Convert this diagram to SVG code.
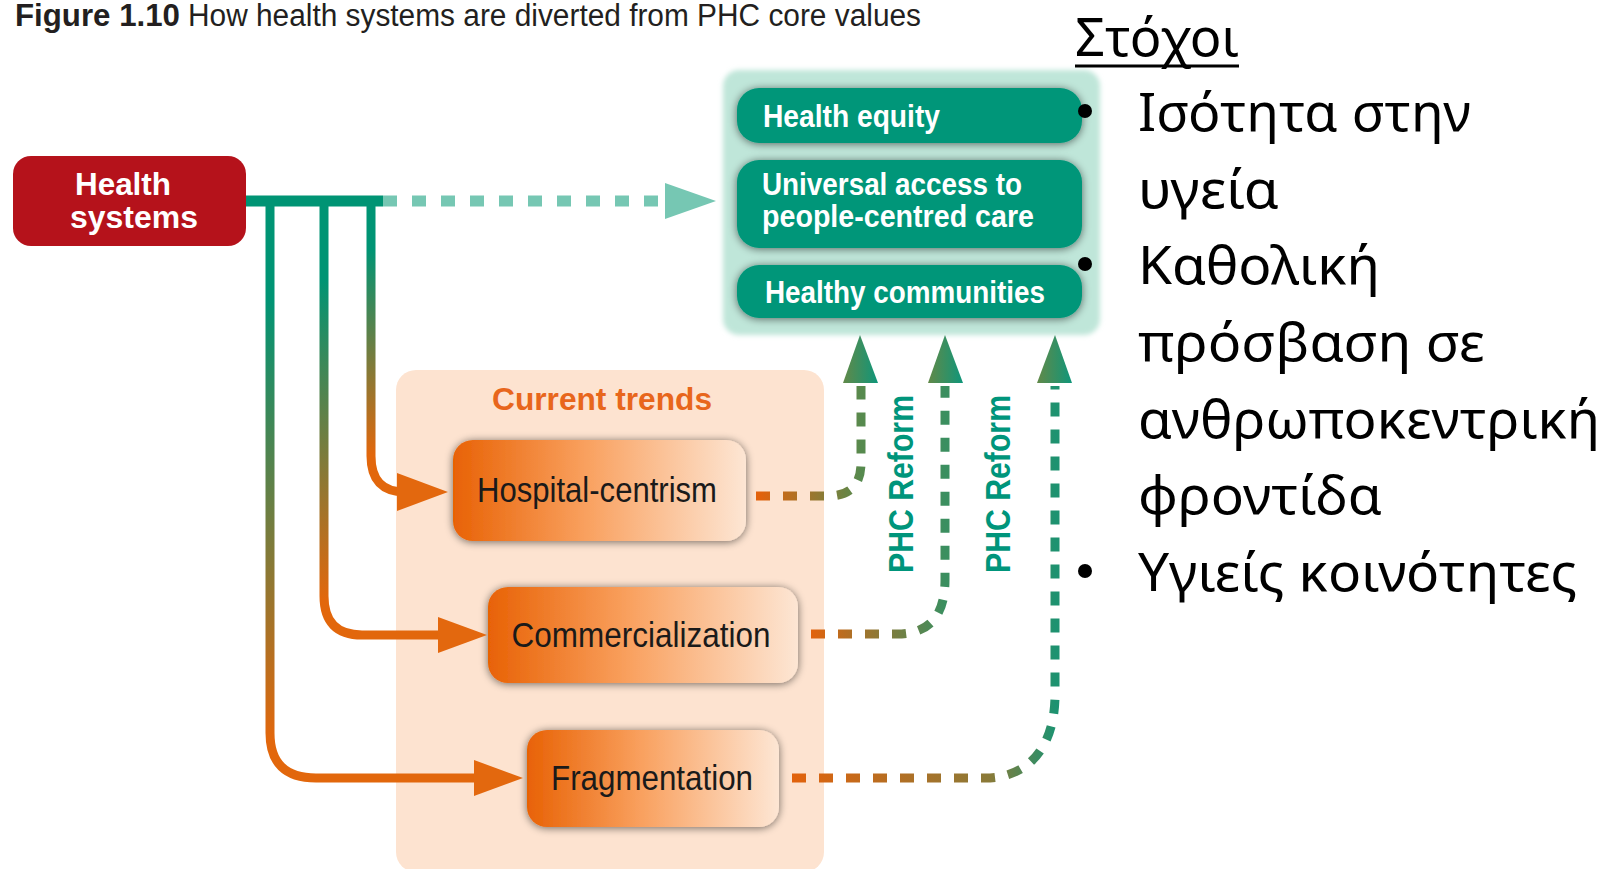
<svg xmlns="http://www.w3.org/2000/svg" width="1610" height="869" viewBox="0 0 1610 869">
<style>
.cond{font-family:"Liberation Sans Narrow","Liberation Sans",Arial,sans-serif}
.title{font-size:31px;fill:#231f20}
.wb{font-size:31px;font-weight:bold;fill:#ffffff}
.ot{font-size:35px;fill:#1a1a1a}
.phc{font-size:35px;font-weight:bold;fill:#00957b}
.gr{font-family:"Noto Sans","Open Sans","DejaVu Sans",sans-serif;font-size:52px;fill:#000000}
.sol{fill:none;stroke-width:9}
.dsh{fill:none;stroke-width:9;stroke-dasharray:14 13}
</style>
<defs>
<filter id="sh" x="-15%" y="-30%" width="130%" height="160%">
<feGaussianBlur in="SourceAlpha" stdDeviation="4" result="b"/>
<feOffset in="b" dx="0" dy="1" result="o"/>
<feComponentTransfer in="o" result="s"><feFuncA type="linear" slope="0.55"/></feComponentTransfer>
<feMerge><feMergeNode in="s"/><feMergeNode in="SourceGraphic"/></feMerge>
</filter>
<filter id="soft" x="-5%" y="-5%" width="110%" height="110%"><feGaussianBlur stdDeviation="2.5"/></filter>
<linearGradient id="og" x1="0" y1="0" x2="1" y2="0">
<stop offset="0" stop-color="#e86205"/><stop offset="0.45" stop-color="#f9a05e"/><stop offset="1" stop-color="#fde6d4"/>
</linearGradient>
<linearGradient id="gL1" gradientUnits="userSpaceOnUse" x1="0" y1="250" x2="0" y2="455"><stop offset="0" stop-color="#009474"/><stop offset="1" stop-color="#e2670c"/></linearGradient>
<linearGradient id="gL2" gradientUnits="userSpaceOnUse" x1="0" y1="280" x2="0" y2="600"><stop offset="0" stop-color="#009474"/><stop offset="1" stop-color="#e2670c"/></linearGradient>
<linearGradient id="gL3" gradientUnits="userSpaceOnUse" x1="0" y1="300" x2="0" y2="740"><stop offset="0" stop-color="#009474"/><stop offset="1" stop-color="#e2670c"/></linearGradient>
<linearGradient id="gD1" gradientUnits="userSpaceOnUse" x1="760" y1="0" x2="861" y2="0"><stop offset="0" stop-color="#e2620c"/><stop offset="1" stop-color="#568a4e"/></linearGradient>
<linearGradient id="gD2" gradientUnits="userSpaceOnUse" x1="811" y1="0" x2="945" y2="0"><stop offset="0" stop-color="#e2620c"/><stop offset="1" stop-color="#3a8f60"/></linearGradient>
<linearGradient id="gD3" gradientUnits="userSpaceOnUse" x1="792" y1="0" x2="1055" y2="0"><stop offset="0" stop-color="#e2620c"/><stop offset="0.75" stop-color="#8a7a38"/><stop offset="1" stop-color="#1d9270"/></linearGradient>
<linearGradient id="ga" x1="0" y1="0" x2="1" y2="0"><stop offset="0" stop-color="#628948"/><stop offset="1" stop-color="#0f967a"/></linearGradient>
</defs>
<rect width="1610" height="869" fill="#ffffff"/>

<g id="title">
<text class="cond title" x="15" y="26" font-weight="bold" textLength="165" lengthAdjust="spacingAndGlyphs">Figure 1.10</text>
<text class="cond title" x="188" y="26" textLength="733" lengthAdjust="spacingAndGlyphs">How health systems are diverted from PHC core values</text>
</g>

<g id="goals-panel">
<rect x="723" y="70" width="377" height="265" rx="16" fill="#bfe6d9" filter="url(#soft)"/>
</g>
<g id="health-equity">
<rect x="737" y="88" width="345" height="55" rx="22" fill="#009679" filter="url(#sh)"/>
<text class="cond wb" x="763" y="127" textLength="177" lengthAdjust="spacingAndGlyphs">Health equity</text>
</g>
<g id="universal-access">
<rect x="737" y="160" width="345" height="88" rx="22" fill="#009679" filter="url(#sh)"/>
<text class="cond wb" x="762" y="195" font-size="28" textLength="260" lengthAdjust="spacingAndGlyphs">Universal access to</text>
<text class="cond wb" x="762" y="227" font-size="28" textLength="272" lengthAdjust="spacingAndGlyphs">people-centred care</text>
</g>
<g id="healthy-communities">
<rect x="737" y="265" width="345" height="53" rx="22" fill="#009679" filter="url(#sh)"/>
<text class="cond wb" x="765" y="303" textLength="280" lengthAdjust="spacingAndGlyphs">Healthy communities</text>
</g>

<g id="current-trends">
<rect x="396" y="370" width="428" height="502" rx="20" fill="#fde3d0"/>
<text class="cond" x="602" y="410" text-anchor="middle" font-size="32" font-weight="bold" fill="#e8661c" textLength="220" lengthAdjust="spacingAndGlyphs">Current trends</text>
</g>

<g id="health-systems">
<rect x="13" y="156" width="233" height="90" rx="18" fill="#b5121b"/>
<text class="cond wb" x="123" y="195" text-anchor="middle" textLength="96" lengthAdjust="spacingAndGlyphs">Health</text>
<text class="cond wb" x="134" y="228" text-anchor="middle" textLength="128" lengthAdjust="spacingAndGlyphs">systems</text>
</g>

<g id="hospital-centrism">
<rect x="453" y="440" width="293" height="101" rx="20" fill="url(#og)" filter="url(#sh)"/>
<text class="cond ot" x="597" y="502" text-anchor="middle" textLength="240" lengthAdjust="spacingAndGlyphs">Hospital-centrism</text>
</g>
<g id="commercialization">
<rect x="488" y="587" width="310" height="96" rx="20" fill="url(#og)" filter="url(#sh)"/>
<text class="cond ot" x="641" y="647" text-anchor="middle" textLength="259" lengthAdjust="spacingAndGlyphs">Commercialization</text>
</g>
<g id="fragmentation">
<rect x="527" y="730" width="252" height="97" rx="20" fill="url(#og)" filter="url(#sh)"/>
<text class="cond ot" x="652" y="790" text-anchor="middle" textLength="202" lengthAdjust="spacingAndGlyphs">Fragmentation</text>
</g>

<g id="connectors">
<path d="M246,201 H383" stroke="#009474" stroke-width="11" fill="none"/>
<path d="M383,201 H660" stroke="#76c7b3" stroke-width="11" stroke-dasharray="14 15" fill="none"/>
<polygon points="665,183 716,201 665,219" fill="#76c7b3"/>

<path class="sol" stroke="url(#gL1)" d="M371,197 V456 Q371,492 405,492"/>
<polygon points="397,473 448,492 397,511" fill="#e3680e"/>
<path class="sol" stroke="url(#gL2)" d="M324,197 V596 Q324,635 362,635 H442"/>
<polygon points="438,617 487,635 438,653" fill="#e3680e"/>
<path class="sol" stroke="url(#gL3)" d="M270,197 V733 Q270,778 316,778 H478"/>
<polygon points="474,760 523,778 474,796" fill="#e3680e"/>

<path class="dsh" stroke="url(#gD1)" d="M756,496 H828 Q861,496 861,463 V386"/>
<polygon points="843,383 860,335 878,383" fill="url(#ga)"/>
<path class="dsh" stroke="url(#gD2)" d="M811,634 H897 Q945,634 945,580 V386"/>
<polygon points="928,383 945,335 963,383" fill="url(#ga)"/>
<path class="dsh" stroke="url(#gD3)" d="M792,778 H985 C1030,778 1055,745 1055,695 V386"/>
<polygon points="1037,383 1055,335 1072,383" fill="url(#ga)"/>

<text class="cond phc" transform="translate(913,484) rotate(-90)" text-anchor="middle" textLength="178" lengthAdjust="spacingAndGlyphs">PHC Reform</text>
<text class="cond phc" transform="translate(1010,484) rotate(-90)" text-anchor="middle" textLength="178" lengthAdjust="spacingAndGlyphs">PHC Reform</text>
</g>

<g id="goals-text">
<text class="gr" x="1075" y="56" textLength="164" lengthAdjust="spacingAndGlyphs">Στόχοι</text>
<line x1="1075" y1="66" x2="1239" y2="66" stroke="#000" stroke-width="3"/>
<circle cx="1085" cy="111" r="7" fill="#000"/>
<circle cx="1085" cy="264" r="7" fill="#000"/>
<circle cx="1085" cy="571" r="7" fill="#000"/>
<text class="gr" x="1138" y="131" textLength="333" lengthAdjust="spacingAndGlyphs">Ισότητα στην</text>
<text class="gr" x="1138" y="208" textLength="141" lengthAdjust="spacingAndGlyphs">υγεία</text>
<text class="gr" x="1138" y="284" textLength="242" lengthAdjust="spacingAndGlyphs">Καθολική</text>
<text class="gr" x="1138" y="361" textLength="347" lengthAdjust="spacingAndGlyphs">πρόσβαση σε</text>
<text class="gr" x="1138" y="438" textLength="462" lengthAdjust="spacingAndGlyphs">ανθρωποκεντρική</text>
<text class="gr" x="1138" y="514" textLength="244" lengthAdjust="spacingAndGlyphs">φροντίδα</text>
<text class="gr" x="1138" y="591" textLength="439" lengthAdjust="spacingAndGlyphs">Υγιείς κοινότητες</text>
</g>
</svg>
